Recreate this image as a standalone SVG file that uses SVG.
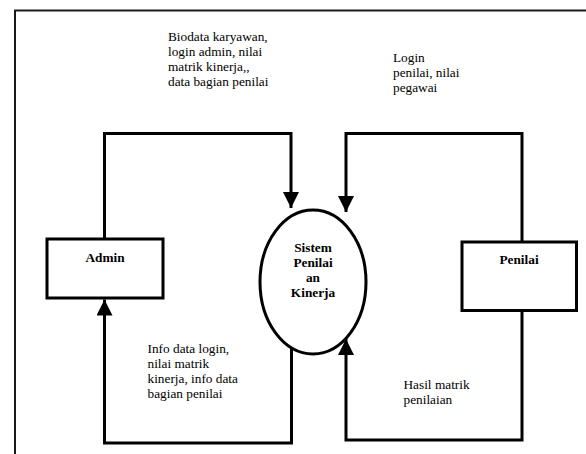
<svg xmlns="http://www.w3.org/2000/svg" width="586" height="454" viewBox="0 0 586 454">
  <style>
    .box { fill: #fff; stroke: #000; stroke-width: 3; }
    .flow { fill: none; stroke: #000; stroke-width: 3; stroke-linejoin: miter; }
    .frame { fill: none; stroke: #1a1a1a; stroke-width: 2; }
    .lbl { font-family: "Liberation Serif", "Times New Roman", serif; font-size: 13.3px; fill: #000; }
    .name { font-family: "Liberation Serif", "Times New Roman", serif; font-size: 13.3px; font-weight: bold; fill: #000; text-anchor: middle; }
  </style>
  <defs>
    <marker id="arrow" markerUnits="userSpaceOnUse" markerWidth="16" markerHeight="16" viewBox="0 0 16 16" refX="16" refY="8" orient="auto">
      <path d="M0,0 L16,8 L0,16 Z" fill="#000"/>
    </marker>
  </defs>
  <rect width="586" height="454" fill="#fff"/>

  <!-- page frame -->
  <path class="frame" d="M15,454 V10.5 H586"/>

  <!-- data flows -->
  <g id="connectors">
    <path class="flow" d="M104.5,238 V133.5 H291 V208" marker-end="url(#arrow)"/>
    <path class="flow" d="M522,241 V133.5 H346 V212" marker-end="url(#arrow)"/>
    <path class="flow" d="M291.5,349 V443 H104.5 V299.5" marker-end="url(#arrow)"/>
    <path class="flow" d="M522,311 V440 H346 V339" marker-end="url(#arrow)"/>
  </g>

  <g id="admin">
    <rect class="box" x="47" y="239" width="116" height="59"/>
    <text class="name" x="105" y="262">Admin</text>
  </g>

  <g id="penilai">
    <rect class="box" x="462" y="242" width="114.5" height="68.5"/>
    <text class="name" x="519" y="264">Penilai</text>
  </g>

  <g id="sistem">
    <ellipse class="box" cx="313" cy="282" rx="53" ry="72"/>
    <text class="name" x="313" y="252">Sistem</text>
    <text class="name" x="313" y="267">Penilai</text>
    <text class="name" x="313" y="282">an</text>
    <text class="name" x="313" y="297">Kinerja</text>
  </g>

  <!-- flow labels -->
  <g id="labels">
    <text class="lbl" x="168" y="41">Biodata karyawan,</text>
    <text class="lbl" x="168" y="56">login admin, nilai</text>
    <text class="lbl" x="168" y="71">matrik kinerja,,</text>
    <text class="lbl" x="168" y="86">data bagian penilai</text>

    <text class="lbl" x="393" y="62">Login</text>
    <text class="lbl" x="393" y="77">penilai, nilai</text>
    <text class="lbl" x="393" y="92">pegawai</text>

    <text class="lbl" x="147.5" y="353">Info data login,</text>
    <text class="lbl" x="147.5" y="368">nilai matrik</text>
    <text class="lbl" x="147.5" y="383">kinerja, info data</text>
    <text class="lbl" x="147.5" y="398">bagian penilai</text>

    <text class="lbl" x="403.5" y="389">Hasil matrik</text>
    <text class="lbl" x="403.5" y="404">penilaian</text>
  </g>
</svg>
